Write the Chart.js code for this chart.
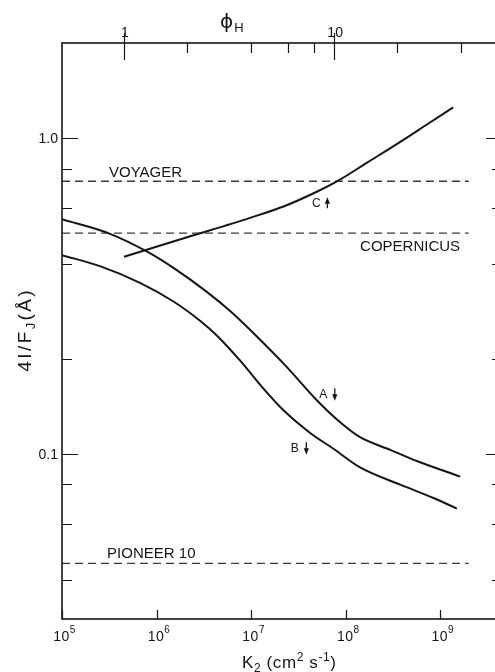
<!DOCTYPE html>
<html>
<head>
<meta charset="utf-8">
<script src="https://cdn.jsdelivr.net/npm/chart.js@4/dist/chart.umd.min.js"></script>
<style>
  html, body { margin: 0; padding: 0; background: #fff; overflow: hidden; }
  canvas { display: block; }
</style>
</head>
<body>
<canvas id="c" width="510" height="672"></canvas>
<script>
// Eddy diffusion coefficient K2 (cm^2 s^-1) and the emission ratio 4I/F_J (Å)
const kA = [1e5, 3.22e5, 7.87e5, 1.51e6, 3.40e6, 6.0e6, 1.15e7, 2.39e7, 4.95e7, 8.75e7, 1.42e8, 2.96e8, 5.66e8, 1.63e9];
const curveA = [0.553, 0.4975, 0.4376, 0.388, 0.3258, 0.2833, 0.2354, 0.1883, 0.1479, 0.1259, 0.1129, 0.1030, 0.0949, 0.0847];

const kB = [1e5, 2.52e5, 6.68e5, 1.51e6, 2.88e6, 4.34e6, 7.66e6, 1.35e7, 2.2e7, 4.21e7, 7.43e7, 1.42e8, 3.78e8, 8.49e8, 1.50e9];
const curveB = [0.426, 0.393, 0.348, 0.3037, 0.2640, 0.2371, 0.1973, 0.1609, 0.1374, 0.1165, 0.1038, 0.0906, 0.0799, 0.0725, 0.0671];

const kC = [4.53e5, 2.10e6, 9.75e6, 2.2e7, 4.95e7, 8.34e7, 1.67e8, 3.78e8, 7.23e8, 1.37e9];
const curveC = [0.4207, 0.485, 0.559, 0.607, 0.676, 0.733, 0.8345, 0.9727, 1.104, 1.251];

// Observed levels (dashed)
const refNames = ['VOYAGER', 'COPERNICUS', 'PIONEER 10'];
const refValues = [0.73, 0.5, 0.045];
const refKStart = 1e5;
const refKEnd = 2e9;

// Curve tags
const curveTags = ['A', 'B', 'C'];
const curveTagK = [5.8e7, 2.9e7, 4.9e7];
const curveTagV = [0.155, 0.1045, 0.622];
const curveTagDir = ['down', 'down', 'up'];

// Axis ranges and ticks
const kMin = 1e5, kMax = 4.5e9;
const yMin = 0.03, yMax = 2.0;
const phiMin = 0.507, phiMax = 62.9;   // phi_H over the same K2 range
const kTicks = [1e5, 1e6, 1e7, 1e8, 1e9];
const kTickExp = ['5', '6', '7', '8', '9'];
const yMajorTicks = [0.1, 1.0];
const yMajorLabels = ['0.1', '1.0'];
const yMinorTicks = [0.04, 0.06, 0.08, 0.2, 0.4, 0.6, 0.8];
const phiTicks = [1, 2, 4, 6, 8, 10, 20, 40];
const phiLabeled = [1, 10];

const SANS = '"Liberation Sans", Arial, sans-serif';
const INK = '#151515';

function font(sz, fam) { return sz + 'px ' + (fam || SANS); }

function runWidth(ctx, parts, spacing) {
  let w = 0;
  for (const p of parts) {
    ctx.font = font(p.size, p.fam);
    for (const ch of p.t) w += ctx.measureText(ch).width + (spacing || 0);
  }
  return w - (spacing || 0);
}

function drawRun(ctx, parts, x, y, spacing) {
  for (const p of parts) {
    ctx.font = font(p.size, p.fam);
    for (const ch of p.t) {
      ctx.fillText(ch, x, y + (p.dy || 0));
      x += ctx.measureText(ch).width + (spacing || 0);
    }
  }
}

function arrow(ctx, x, yTail, yHead) {
  const dir = yHead > yTail ? 1 : -1;
  ctx.beginPath();
  ctx.moveTo(x, yTail);
  ctx.lineTo(x, yHead - dir * 4);
  ctx.lineWidth = 1.3;
  ctx.stroke();
  ctx.beginPath();
  ctx.moveTo(x, yHead);
  ctx.lineTo(x - 2.6, yHead - dir * 6.5);
  ctx.lineTo(x + 2.6, yHead - dir * 6.5);
  ctx.closePath();
  ctx.fill();
}

const axesDecor = {
  id: 'axesDecor',
  afterDatasetsDraw(chart) {
    const { ctx, chartArea: a, scales } = chart;
    const x = scales.x, y = scales.y, x2 = scales.x2;
    ctx.save();
    ctx.strokeStyle = INK;
    ctx.fillStyle = INK;

    // frame
    ctx.lineWidth = 1.6;
    ctx.strokeRect(a.left, a.top, a.right - a.left, a.bottom - a.top);

    ctx.lineWidth = 1.2;
    ctx.beginPath();
    // bottom K2 ticks
    for (const k of kTicks) {
      const px = Math.round(x.getPixelForValue(k)) + 0.5;
      ctx.moveTo(px, a.bottom); ctx.lineTo(px, a.bottom - 9);
    }
    // top phi_H ticks
    for (const p of phiTicks) {
      const px = Math.round(x2.getPixelForValue(p)) + 0.5;
      if (phiLabeled.includes(p)) { ctx.moveTo(px, a.top - 10); ctx.lineTo(px, a.top + 17); }
      else { ctx.moveTo(px, a.top); ctx.lineTo(px, a.top + 10); }
    }
    // left / right ticks
    for (const v of yMajorTicks) {
      const py = Math.round(y.getPixelForValue(v)) + 0.5;
      ctx.moveTo(a.left, py); ctx.lineTo(a.left + 16, py);
      ctx.moveTo(a.right, py); ctx.lineTo(a.right - 16, py);
    }
    for (const v of yMinorTicks) {
      const py = Math.round(y.getPixelForValue(v)) + 0.5;
      ctx.moveTo(a.left, py); ctx.lineTo(a.left + 10, py);
      ctx.moveTo(a.right, py); ctx.lineTo(a.right - 10, py);
    }
    ctx.stroke();

    // bottom tick labels 10^n
    ctx.textAlign = 'left';
    ctx.textBaseline = 'alphabetic';
    kTicks.forEach((k, i) => {
      const px = x.getPixelForValue(k);
      ctx.font = font(14);
      const wb = ctx.measureText('10').width;
      drawRun(ctx, [{ t: '10', size: 14 }, { t: kTickExp[i], size: 10, dy: -8 }], px - wb / 2 - 1, 641, 0.5);
    });

    // left tick labels
    ctx.font = font(14);
    ctx.textAlign = 'right';
    yMajorTicks.forEach((v, i) => {
      ctx.fillText(yMajorLabels[i], a.left - 4, y.getPixelForValue(v) + 5);
    });

    // top phi_H labels
    ctx.textAlign = 'center';
    for (const p of phiLabeled) {
      ctx.fillText(String(p), x2.getPixelForValue(p) + 1, 37);
    }
    ctx.textAlign = 'left';
    drawRun(ctx, [{ t: '\u03D5', size: 20, fam: '"DejaVu Sans", sans-serif' }, { t: 'H', size: 13, dy: 4.5 }], 220, 27.5, 1);

    // x title
    const xt = [
      { t: 'K', size: 17 }, { t: '2', size: 12, dy: 4 }, { t: ' (cm', size: 17 },
      { t: '2', size: 12, dy: -7 }, { t: ' s', size: 17 }, { t: '-1', size: 12, dy: -7 }, { t: ')', size: 17 }
    ];
    const xtw = runWidth(ctx, xt, 0.6);
    drawRun(ctx, xt, 289 - xtw / 2, 668, 0.6);

    // y title (rotated)
    const yt = [{ t: '4I/F', size: 19 }, { t: 'J', size: 13, dy: 4 }, { t: '(\u00C5)', size: 19 }];
    ctx.save();
    ctx.translate(24, (a.top + a.bottom) / 2);
    ctx.rotate(-Math.PI / 2);
    const ytw = runWidth(ctx, yt, 2.4);
    drawRun(ctx, yt, -ytw / 2, 7, 2.4);
    ctx.restore();

    // observed-level labels
    ctx.font = font(15);
    ctx.textAlign = 'left';
    const refLabelK = [3.14e5, 1.42e8, 3.0e5];
    const refLabelDy = [-4, 18, -5];
    refNames.forEach((name, i) => {
      ctx.fillText(name, x.getPixelForValue(refLabelK[i]), y.getPixelForValue(refValues[i]) + refLabelDy[i]);
    });

    // curve tags with arrows
    ctx.font = font(12);
    ctx.textAlign = 'center';
    ctx.textBaseline = 'middle';
    curveTags.forEach((tag, i) => {
      const px = x.getPixelForValue(curveTagK[i]);
      const py = y.getPixelForValue(curveTagV[i]);
      ctx.fillText(tag, px, py + 0.5);
      if (curveTagDir[i] === 'down') arrow(ctx, px + 11.5, py - 5.5, py + 7);
      else arrow(ctx, px + 11, py + 5, py - 6);
    });

    ctx.restore();
  }
};

const curveStyle = { borderColor: INK, borderWidth: 2, pointRadius: 0, showLine: true, cubicInterpolationMode: 'monotone', fill: false };
const dashStyle = { borderColor: '#3a3a3a', borderWidth: 1.3, borderDash: [8, 5], pointRadius: 0, showLine: true, fill: false };

const datasets = [
  Object.assign({ label: 'A', data: kA.map((k, i) => ({ x: k, y: curveA[i] })) }, curveStyle),
  Object.assign({ label: 'B', data: kB.map((k, i) => ({ x: k, y: curveB[i] })) }, curveStyle),
  Object.assign({ label: 'C', data: kC.map((k, i) => ({ x: k, y: curveC[i] })) }, curveStyle)
];
refNames.forEach((name, i) => {
  datasets.push(Object.assign({ label: name, data: [{ x: refKStart, y: refValues[i] }, { x: refKEnd, y: refValues[i] }] }, dashStyle));
});

new Chart(document.getElementById('c'), {
  type: 'scatter',
  data: { datasets },
  options: {
    responsive: false,
    animation: false,
    devicePixelRatio: 1,
    layout: { padding: { left: 62, top: 43, right: 8, bottom: 53 } },
    plugins: { legend: { display: false }, tooltip: { enabled: false } },
    scales: {
      x: { type: 'logarithmic', min: kMin, max: kMax, display: false },
      x2: { type: 'logarithmic', position: 'top', min: phiMin, max: phiMax, display: false },
      y: { type: 'logarithmic', min: yMin, max: yMax, display: false }
    }
  },
  plugins: [axesDecor]
});
</script>
</body>
</html>
